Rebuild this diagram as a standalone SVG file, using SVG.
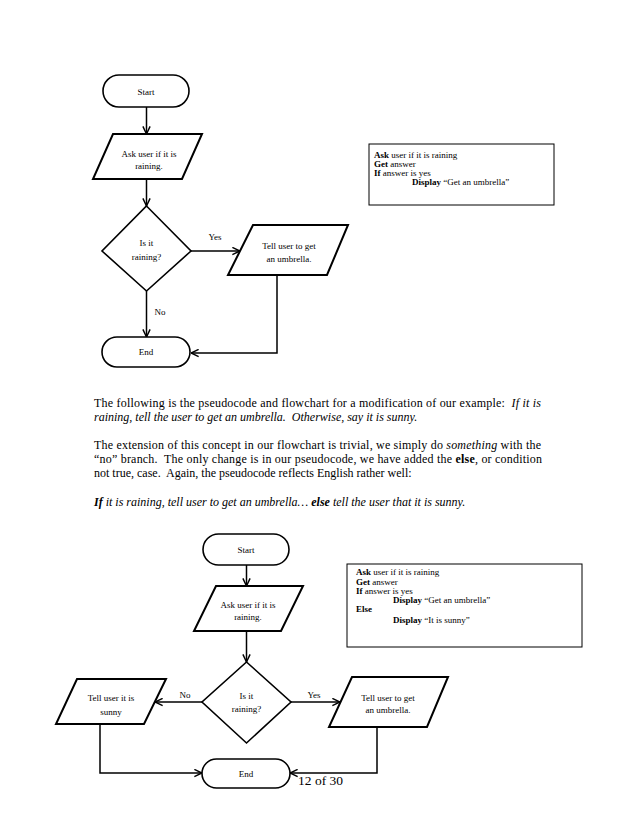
<svg xmlns="http://www.w3.org/2000/svg" width="638" height="826" viewBox="0 0 638 826">
<style>
  text { font-family: "Liberation Serif", "Times New Roman", serif; fill: #000; }
  .n { font-size: 9px; text-anchor: middle; }
  .p { font-size: 9px; }
  .para { font-size: 12px; white-space: pre; }
  .shape { fill: #fff; stroke: #000; stroke-width: 1.6; }
  .io { fill: #fff; stroke: #000; stroke-width: 2; }
  .box { fill: #fff; stroke: #000; stroke-width: 1; }
  .c { fill: none; stroke: #000; stroke-width: 1.5; }
  .b { font-weight: bold; }
  .i { font-style: italic; }
</style>
<defs>
  <marker id="ah" viewBox="0 0 10 10" refX="9.5" refY="5" markerWidth="9" markerHeight="9" markerUnits="userSpaceOnUse" orient="auto">
    <path d="M1,1 L9.5,5 L1,9" fill="none" stroke="#000" stroke-width="1.6"/>
  </marker>
</defs>
<rect width="638" height="826" fill="#fff"/>

<!-- Top flowchart connectors -->
<g id="connectors-top">
  <path class="c" d="M146.5,107 V134" marker-end="url(#ah)"/>
  <path class="c" d="M146.5,179 V206" marker-end="url(#ah)"/>
  <path class="c" d="M191,251 H240" marker-end="url(#ah)"/>
  <path class="c" d="M146.5,291 V337" marker-end="url(#ah)"/>
  <path class="c" d="M277,275 V353 H191" marker-end="url(#ah)"/>
  <text class="n" x="215" y="240">Yes</text>
  <text class="n" x="160" y="315">No</text>
</g>

<g id="start1">
  <rect class="shape" x="103" y="75" width="86" height="32" rx="16"/>
  <text class="n" x="146" y="94.5">Start</text>
</g>
<g id="ask1">
  <polygon class="io" points="113,134 202,134 182,179 93,179"/>
  <text class="n" x="149" y="156.5">Ask user if it is</text>
  <text class="n" x="149" y="168.5">raining.</text>
</g>
<g id="decision1">
  <polygon class="shape" points="146.5,206 191,251 146.5,291 102,251"/>
  <text class="n" x="146.5" y="246">Is it</text>
  <text class="n" x="146.5" y="260">raining?</text>
</g>
<g id="tell1">
  <polygon class="io" points="253,225 348,225 327,275 228,275"/>
  <text class="n" x="289" y="248.5">Tell user to get</text>
  <text class="n" x="289" y="262">an umbrella.</text>
</g>
<g id="end1">
  <rect class="shape" x="102" y="337" width="88" height="30" rx="15"/>
  <text class="n" x="146" y="355">End</text>
</g>
<g id="pseudo1">
  <rect class="box" x="369" y="144" width="185" height="61"/>
  <text class="p" x="374" y="158"><tspan class="b">Ask</tspan> user if it is raining</text>
  <text class="p" x="374" y="167"><tspan class="b">Get</tspan> answer</text>
  <text class="p" x="374" y="176"><tspan class="b">If</tspan> answer is yes</text>
  <text class="p" x="412" y="185"><tspan class="b">Display</tspan> “Get an umbrella”</text>
</g>

<!-- Paragraph text -->
<g id="paragraph">
  <text class="para" x="94" y="406.5" textLength="447" lengthAdjust="spacing">The following is the pseudocode and flowchart for a modification of our example:  <tspan class="i">If it is</tspan></text>
  <text class="para i" x="94" y="420.5">raining, tell the user to get an umbrella.  Otherwise, say it is sunny.</text>
  <text class="para" x="94" y="449" textLength="447" lengthAdjust="spacing">The extension of this concept in our flowchart is trivial, we simply do <tspan class="i">something</tspan> with the</text>
  <text class="para" x="94" y="463" textLength="448" lengthAdjust="spacing">“no” branch.  The only change is in our pseudocode, we have added the <tspan class="b">else</tspan>, or condition</text>
  <text class="para" x="94" y="477">not true, case.  Again, the pseudocode reflects English rather well:</text>
  <text class="para i" x="94" y="506"><tspan class="b">If</tspan> it is raining, tell user to get an umbrella… <tspan class="b">else</tspan> tell the user that it is sunny.</text>
</g>

<!-- Bottom flowchart connectors -->
<g id="connectors-bottom">
  <path class="c" d="M246.5,565 V586" marker-end="url(#ah)"/>
  <path class="c" d="M246.5,631 V662" marker-end="url(#ah)"/>
  <path class="c" d="M202,702 H155" marker-end="url(#ah)"/>
  <path class="c" d="M291,702 H340" marker-end="url(#ah)"/>
  <path class="c" d="M100,724 V773 H202" marker-end="url(#ah)"/>
  <path class="c" d="M377,727 V773 H290" marker-end="url(#ah)"/>
  <text class="n" x="185" y="698">No</text>
  <text class="n" x="314" y="698">Yes</text>
</g>

<g id="start2">
  <rect class="shape" x="203" y="534" width="86" height="31" rx="15.5"/>
  <text class="n" x="246" y="552.5">Start</text>
</g>
<g id="ask2">
  <polygon class="io" points="216,586 303,586 281,631 194,631"/>
  <text class="n" x="248" y="607.5">Ask user if it is</text>
  <text class="n" x="248" y="620">raining.</text>
</g>
<g id="decision2">
  <polygon class="shape" points="246.5,662 291,702 246.5,743 202,702"/>
  <text class="n" x="246.5" y="699">Is it</text>
  <text class="n" x="246.5" y="712">raining?</text>
</g>
<g id="sunny2">
  <polygon class="io" points="77,679 166,679 144,724 56,724"/>
  <text class="n" x="111" y="701">Tell user it is</text>
  <text class="n" x="111" y="715">sunny</text>
</g>
<g id="tell2">
  <polygon class="io" points="352,677 448,677 427,727 329,727"/>
  <text class="n" x="388" y="701">Tell user to get</text>
  <text class="n" x="388" y="713">an umbrella.</text>
</g>
<g id="end2">
  <rect class="shape" x="202" y="759" width="88" height="29" rx="14.5"/>
  <text class="n" x="246" y="777">End</text>
</g>
<g id="pseudo2">
  <rect class="box" x="347" y="564" width="235" height="83"/>
  <text class="p" x="356" y="575"><tspan class="b">Ask</tspan> user if it is raining</text>
  <text class="p" x="356" y="585"><tspan class="b">Get</tspan> answer</text>
  <text class="p" x="356" y="594"><tspan class="b">If</tspan> answer is yes</text>
  <text class="p" x="393" y="603"><tspan class="b">Display</tspan> “Get an umbrella”</text>
  <text class="p" x="356" y="612"><tspan class="b">Else</tspan></text>
  <text class="p" x="393" y="623"><tspan class="b">Display</tspan> “It is sunny”</text>
</g>

<text x="298" y="785" style="font-size:13.5px">12 of 30</text>
</svg>
